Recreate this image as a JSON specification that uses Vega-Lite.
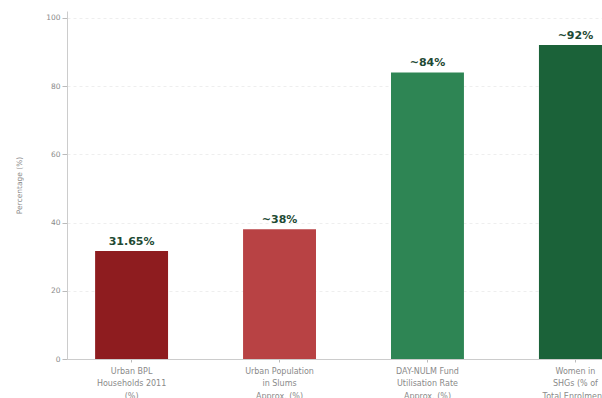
{
  "$schema": "https://vega.github.io/schema/vega-lite/v6.json",
  "autosize": {"type": "none"},
  "width": 573,
  "height": 348,
  "padding": {"left": 67, "top": 11, "right": 0, "bottom": 39},
  "background": "white",
  "config": {"view": {"stroke": null}},
  "data": {
    "values": [
      {"category": "Urban BPL|Households 2011|(%)", "value": 31.65, "label": "31.65%", "color": "#8e1c1f"},
      {"category": "Urban Population|in Slums|Approx. (%)", "value": 38, "label": "~38%", "color": "#b84244"},
      {"category": "DAY-NULM Fund|Utilisation Rate|Approx. (%)", "value": 84, "label": "~84%", "color": "#2e8554"},
      {"category": "Women in|SHGs (% of|Total Enrolment)", "value": 92, "label": "~92%", "color": "#1b6239"}
    ]
  },
  "encoding": {
    "x": {
      "field": "category",
      "type": "nominal",
      "sort": null,
      "scale": {"paddingInner": 0.507, "paddingOuter": 0.19},
      "axis": {
        "title": null,
        "labelAngle": 0,
        "labelExpr": "split(datum.label, '|')",
        "labelFontSize": 8,
        "labelLineHeight": 12.5,
        "labelColor": "#8a8a8a",
        "labelFont": "DejaVu Sans",
        "labelPadding": 5,
        "tickSize": 3,
        "tickColor": "#bbbbbb",
        "domainColor": "#cccccc",
        "grid": false
      }
    },
    "y": {
      "field": "value",
      "type": "quantitative",
      "scale": {"domain": [0, 102], "nice": false},
      "axis": {
        "title": "Percentage (%)",
        "titleFontSize": 7.5,
        "titleFontWeight": "normal",
        "titleColor": "#8a8a8a",
        "titleFont": "DejaVu Sans",
        "titlePadding": 22,
        "values": [0, 20, 40, 60, 80, 100],
        "labelFontSize": 7.5,
        "labelColor": "#8a8a8a",
        "labelFont": "DejaVu Sans",
        "tickSize": 5,
        "tickColor": "#bbbbbb",
        "domainColor": "#cccccc",
        "gridColor": "#eeeeee",
        "gridDash": [3, 3]
      }
    }
  },
  "layer": [
    {
      "mark": {"type": "bar"},
      "encoding": {
        "color": {"field": "color", "type": "nominal", "scale": null}
      }
    },
    {
      "mark": {"type": "text", "dy": -4, "baseline": "bottom", "fontWeight": "bold", "fontSize": 11, "font": "DejaVu Sans", "color": "#1e4a34"},
      "encoding": {
        "text": {"field": "label"}
      }
    }
  ]
}
